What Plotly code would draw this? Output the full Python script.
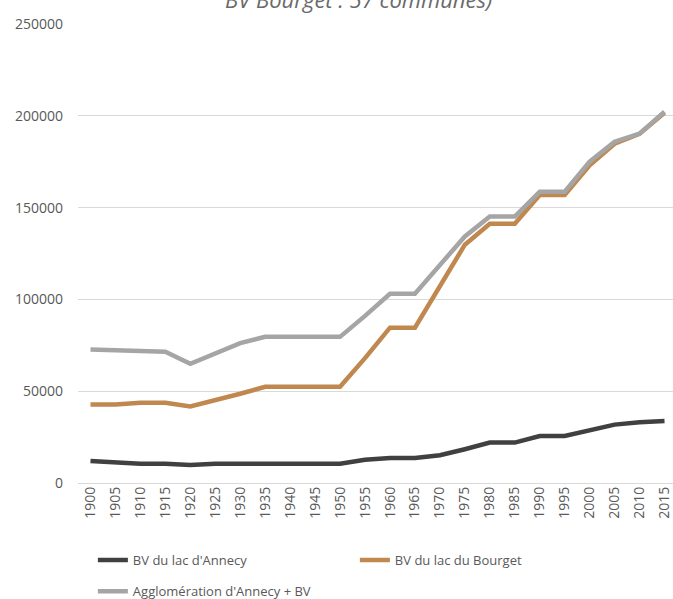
import plotly.graph_objects as go

# Recensements, tous les 5 ans
years = ["1900", "1905", "1910", "1915", "1920", "1925", "1930", "1935",
         "1940", "1945", "1950", "1955", "1960", "1965", "1970", "1975",
         "1980", "1985", "1990", "1995", "2000", "2005", "2010", "2015"]

bv_annecy = [12000, 11300, 10500, 10500, 9800, 10500, 10500, 10500,
             10500, 10500, 10500, 12700, 13600, 13600, 15100, 18400,
             22000, 22000, 25600, 25600, 28700, 31800, 33100, 33800]

bv_bourget = [42800, 42800, 43700, 43700, 41700, 45000, 48600, 52400,
              52400, 52400, 52400, 68000, 84600, 84600, 107200, 129800,
              141200, 141200, 156900, 156900, 173100, 184800, 190200, 201700]

agglo_annecy = [72700, 72200, 71500, 71500, 64900, 70800, 76200, 79600,
                79600, 79600, 79600, 91000, 103100, 103100, 119000, 134300,
                145100, 145100, 158600, 158600, 175000, 185800, 190300, 202200]

y_ticks = [0, 50000, 100000, 150000, 200000, 250000]

series = [
    ("BV du lac d'Annecy", bv_annecy, "#404040", "legend"),
    ("BV du lac du Bourget", bv_bourget, "#c0874f", "legend"),
    ("Agglomération d'Annecy + BV", agglo_annecy, "#a5a5a5", "legend2"),
]

FONT = "Open Sans, Noto Sans, sans-serif"
TEXT = "#595959"

fig = go.Figure()
for name, values, color, leg in series:
    fig.add_trace(go.Scatter(
        x=years, y=values, name=name, mode="lines",
        line=dict(color=color, width=4.5),
        legend=leg,
    ))

fig.update_layout(
    width=673, height=599,
    margin=dict(l=78, r=0, t=24, b=116),
    paper_bgcolor="white", plot_bgcolor="white",
    font=dict(family=FONT, color=TEXT),
    showlegend=True,
    legend=dict(
        orientation="h", xref="container", yref="container",
        x=0.138, y=0.065, xanchor="left", yanchor="middle",
        entrywidth=217, entrywidthmode="pixels",
        font=dict(size=13, color=TEXT), bgcolor="rgba(0,0,0,0)",
    ),
    legend2=dict(
        orientation="h", xref="container", yref="container",
        x=0.138, y=0.013, xanchor="left", yanchor="middle",
        font=dict(size=13, color=TEXT), bgcolor="rgba(0,0,0,0)",
    ),
)

fig.update_xaxes(
    type="category", range=[-0.5, 23.34],
    tickangle=-90, tickfont=dict(size=14, color=TEXT),
    showgrid=False, showline=False, ticks="",
)

fig.update_yaxes(
    range=[0, 250000], tickvals=y_ticks, ticktext=[str(v) for v in y_ticks],
    tickfont=dict(size=14, color=TEXT),
    showgrid=True, gridcolor="#d9d9d9", gridwidth=1,
    zeroline=True, zerolinecolor="#d9d9d9", zerolinewidth=1,
    showline=False, ticks="", ticklabelstandoff=14,
)

fig.add_annotation(
    text="<i>BV Bourget : 57 communes)</i>",
    xref="paper", yref="paper", x=(358 - 78) / 595, y=1 + 8 / 459,
    xanchor="center", yanchor="bottom", showarrow=False,
    font=dict(size=22, color="#6a6a6a", family=FONT),
)

fig.write_html("out.html")
